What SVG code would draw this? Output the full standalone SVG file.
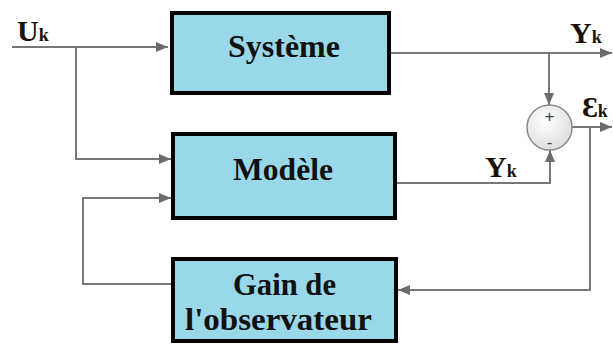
<svg xmlns="http://www.w3.org/2000/svg" width="613" height="344" viewBox="0 0 613 344">
<defs>
<marker id="arr" viewBox="0 0 12 10" refX="12" refY="5" markerWidth="12" markerHeight="10" markerUnits="userSpaceOnUse" orient="auto">
<path d="M0,0 L12,5 L0,10 Z" fill="#6b6b6b"/>
</marker>
<radialGradient id="sumfill" cx="0.4" cy="0.35" r="0.7">
<stop offset="0" stop-color="#ffffff"/>
<stop offset="1" stop-color="#dcdcdc"/>
</radialGradient>
<style>
.box{fill:#99d8e9;stroke:#000;stroke-width:4}
.lbl{font-family:"Liberation Serif","Times New Roman",serif;font-weight:bold;font-size:31px;fill:#111}
.sym{font-family:"Liberation Serif","DejaVu Serif",serif;font-weight:bold;font-size:30px;fill:#1a1208}
.sub{font-size:18px}
.wire{fill:none;stroke:#777;stroke-width:2}
.sgn{font-family:"Liberation Sans",Arial,sans-serif;font-size:17px;fill:#444;text-anchor:middle}
</style>
</defs>
<rect width="613" height="344" fill="#fff"/>
<g id="connectors">
<path class="wire" d="M12,47 H168" marker-end="url(#arr)"/>
<path class="wire" d="M76,47 V159 H171" marker-end="url(#arr)"/>
<path class="wire" d="M171,284 H83 V198 H171" marker-end="url(#arr)"/>
<path class="wire" d="M391,53 H612" marker-end="url(#arr)"/>
<path class="wire" d="M549,53 V105" marker-end="url(#arr)"/>
<path class="wire" d="M397,183 H550 V150" marker-end="url(#arr)"/>
<path class="wire" d="M572,127 H612" marker-end="url(#arr)"/>
<path class="wire" d="M590,127 V290 H398" marker-end="url(#arr)"/>
</g>
<g id="systeme">
<rect class="box" x="172" y="13" width="217" height="80"/>
<text class="lbl" x="228" y="57" textLength="112" lengthAdjust="spacingAndGlyphs">Système</text>
</g>
<g id="modele">
<rect class="box" x="173" y="134" width="222" height="84"/>
<text class="lbl" x="233" y="180" textLength="100" lengthAdjust="spacingAndGlyphs">Modèle</text>
</g>
<g id="gain">
<rect class="box" x="173" y="259" width="223" height="82"/>
<text class="lbl" x="233" y="295" textLength="103" lengthAdjust="spacingAndGlyphs">Gain de</text>
<text class="lbl" x="185" y="330" textLength="187" lengthAdjust="spacingAndGlyphs">l'observateur</text>
</g>
<g id="sommateur">
<circle cx="549.5" cy="127.5" r="22.5" fill="url(#sumfill)" stroke="#8a8a8a" stroke-width="1.5"/>
<text class="sgn" x="549.5" y="122">+</text>
<text class="sgn" x="549.5" y="148">-</text>
</g>
<g id="labels">
<text class="sym" x="17" y="41">U<tspan class="sub">k</tspan></text>
<text class="sym" x="570" y="43">Y<tspan class="sub">k</tspan></text>
<text class="sym" x="582" y="117">Ɛ<tspan class="sub">k</tspan></text>
<text class="sym" x="485" y="177">Y<tspan class="sub">k</tspan></text>
</g>
</svg>
